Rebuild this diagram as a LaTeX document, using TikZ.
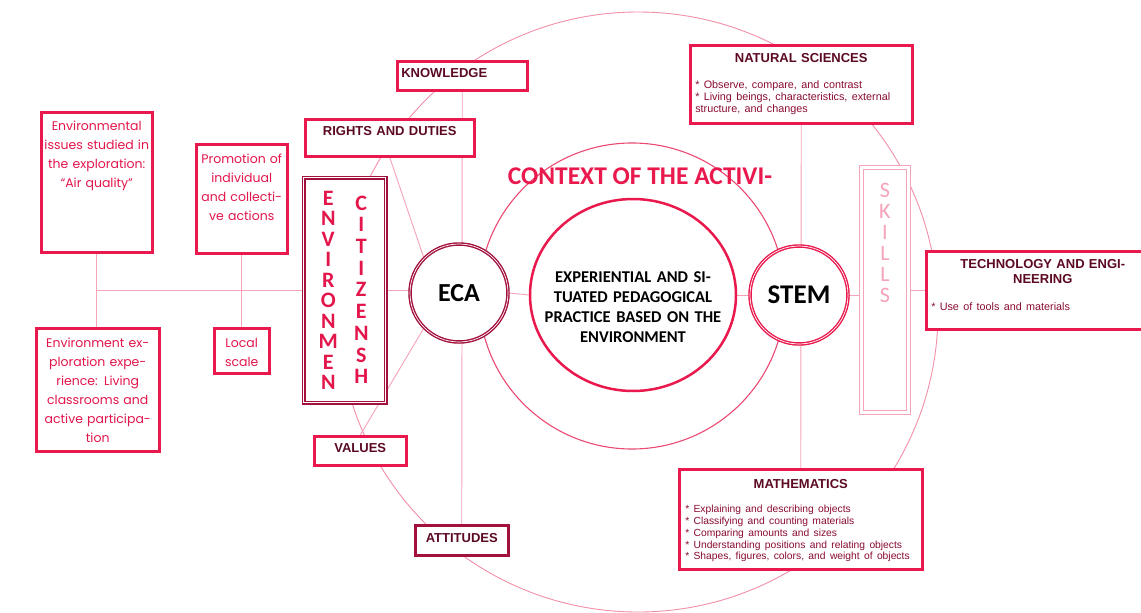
\documentclass[tikz,border=0pt]{standalone}
\usepackage{fontspec}
\usetikzlibrary{backgrounds, shapes.geometric}

\newfontfamily\gothic{Poppins}
\newfontfamily\arial{Liberation Sans}
\newfontfamily\calibri{Carlito}

\definecolor{boxred}{HTML}{E9194E}
\definecolor{darkred}{HTML}{A3103C}
\definecolor{linepink}{HTML}{F6A3B7}
\definecolor{ringpink}{HTML}{F290A8}
\definecolor{midred}{HTML}{EC4A73}
\definecolor{skillpink}{HTML}{F5A3B8}
\definecolor{headtext}{HTML}{5C0A22}
\definecolor{bullettext}{HTML}{8A0C30}
\definecolor{lefttext}{HTML}{E3164C}

\begin{document}
\begin{tikzpicture}[x = 1pt, y = -1pt,
	leftbox/.style = {draw = boxred, line width = 2.5pt, fill = white, inner sep = 0pt, anchor = north west, align = center, text = lefttext, font = \gothic\fontsize{12.5}{19}\selectfont},
	headbox/.style = {draw = boxred, line width = 2.5pt, fill = white, inner sep = 0pt, anchor = north west, text = headtext, font = \arial\bfseries\fontsize{13}{15}\selectfont},
	infobox/.style = {headbox, inner xsep = 5pt, align = left},
	hub/.style = {circle, draw = boxred, fill = white, line width = 1.4pt, double = white, double distance = 0.7pt, inner sep = 0pt, minimum size = 98pt, font = \calibri\bfseries\fontsize{26}{26}\selectfont},
	link/.style = {draw = linepink, line width = 0.9pt}
]

% Definitions

\def\R{300}		% Outer ring radius
\def\r{153}		% Context ring radius

\useasboundingbox (0, 0) rectangle (1141, 613);

% Left boxes

\node [leftbox, text width = 111pt, text height = 18.5pt, text depth = 121.5pt] (issues) at (40, 111) {Environmental\\ issues studied in\\ the exploration:\\ “Air quality”};
\node [leftbox, text width = 91pt, text height = 19.5pt, text depth = 89.5pt] (promo) at (195, 143) {Promotion of\\ individual\\ and collecti-\\ ve actions};
\node [leftbox, text width = 123pt, text height = 19.5pt, text depth = 103.5pt] (explo) at (35, 327) {Environment ex-\\ ploration expe-\\ rience: Living\\ classrooms and\\ active participa-\\ tion};
\node [leftbox, text width = 55pt, text height = 19.5pt, text depth = 25.5pt] (local) at (213, 327) {Local\\ scale};

% ECA branch

\node [headbox, text width = 122pt, inner xsep = 4pt, align = left, text height = 16.3pt, text depth = 12.7pt] (knowledge) at (396, 60) {KNOWLEDGE};
\node [headbox, text width = 169pt, align = center, text height = 16.3pt, text depth = 20.7pt] (rights) at (304, 118) {RIGHTS AND DUTIES};
\node [headbox, text width = 92pt, align = center, text height = 16.3pt, text depth = 12.7pt] (values) at (313, 435) {VALUES};
\node [headbox, draw = darkred, text width = 93pt, align = center, text height = 17.3pt, text depth = 12.7pt] (attitudes) at (414, 524) {ATTITUDES};

\node [draw = darkred, fill = white, line width = 1.5pt, double = white, double distance = 0.9pt, inner sep = 0pt, anchor = north west, minimum width = 82pt, minimum height = 225pt, text = lefttext, font = \calibri\bfseries\fontsize{22}{20.5}\selectfont] (env) at (303, 177)
	{\parbox[t]{24pt}{\centering E\\N\\V\\I\\R\\O\\N\\M\\E\\N}\hspace{9pt}\raisebox{-5pt}{\parbox[t]{24pt}{\centering\baselineskip = 21.7pt C\\I\\T\\I\\Z\\E\\N\\S\\H}}};

\node [hub, draw = darkred] (eca) at (459, 293) {ECA};

% Centre

\node [ellipse, draw = boxred, fill = white, line width = 2.5pt, inner sep = -30pt, minimum width = 206pt, minimum height = 192pt, text width = 200pt, align = center, text height = 35pt, font = \calibri\bfseries\fontsize{16.5}{20}\selectfont] (practice) at (633, 295) {EXPERIENTIAL AND SI-\\ TUATED PEDAGOGICAL\\ PRACTICE BASED ON THE\\ ENVIRONMENT};

\node [text = boxred, font = \calibri\bfseries\fontsize{25.5}{26}\selectfont] (context) at (640, 176) {CONTEXT OF THE ACTIVI-};

% STEM branch

\node [hub, font = \calibri\bfseries\fontsize{27}{27}\selectfont] (stem) at (799, 295) {STEM};

\node [draw = skillpink, fill = white, line width = 0.9pt, double = white, double distance = 2.5pt, inner sep = 0pt, anchor = north west, minimum width = 47pt, text height = 30pt, text depth = 215pt, text = skillpink, font = \calibri\fontsize{22}{21}\selectfont] (skills) at (861, 167)
	{\parbox[t]{24pt}{\centering S\\K\\I\\L\\L\\S}};

\node [infobox, text width = 212pt, text height = 17.3pt, text depth = 60.7pt] (natural) at (689, 44)
	{{\centering NATURAL SCIENCES\par}\vspace{14pt}{\mdseries\fontsize{10.8}{12}\selectfont\color{bullettext}{*} Observe, compare, and contrast\\{*} Living beings, characteristics, external\\ structure, and changes\par}};
\node [infobox, text width = 223pt, text height = 17.3pt, text depth = 60.7pt] (tech) at (925, 250)
	{{\centering TECHNOLOGY AND ENGI-\\ NEERING\par}\vspace{15pt}{\mdseries\fontsize{10.8}{12}\selectfont\color{bullettext}{*} Use of tools and materials\par}};
\node [infobox, inner xsep = 6pt, text width = 231pt, text height = 19.3pt, text depth = 80.7pt] (math) at (678, 468)
	{{\centering MATHEMATICS\par}\vspace{12.7pt}{\mdseries\fontsize{10.3}{11.7}\selectfont\color{bullettext}\frenchspacing{*} Explaining and describing objects\\{*} Classifying and counting materials\\{*} Comparing amounts and sizes\\{*} Understanding positions and relating objects\\{*} Shapes, figures, colors, and weight of objects\par}};

% Rings and links

\begin{scope}[on background layer]
	\fill [white] (0, 0) rectangle (1141, 613);
	\draw [ringpink, line width = 0.9pt] (638, 312) circle [radius = \R];
	\draw [midred, line width = 1.1pt] (632, 296) circle [radius = \r];

	\draw [link] (issues.south) -- (issues.south |- explo.north);
	\draw [link] (promo.south) -- (local.north);
	\draw [link] (issues.south |- env.west) -- (env.west);

	\draw [link] (env.east) -- (env.east -| eca.west);
	\draw [link] (eca.east) -- (practice.west);
	\draw [link] (practice.east) -- (stem.west);
	\draw [link] (stem.east) -- (stem.east -| skills.west);
	\draw [link] (skills.east) -- (skills.east -| tech.west);

	\draw [link] (knowledge.south) -- (attitudes.north);
	\draw [link] (rights.south) -- (eca.north west);
	\draw [link] (eca.south west) -- (values.north);
	\draw [link] (natural.south) -- (math.north);
\end{scope}

\end{tikzpicture}
\end{document}
